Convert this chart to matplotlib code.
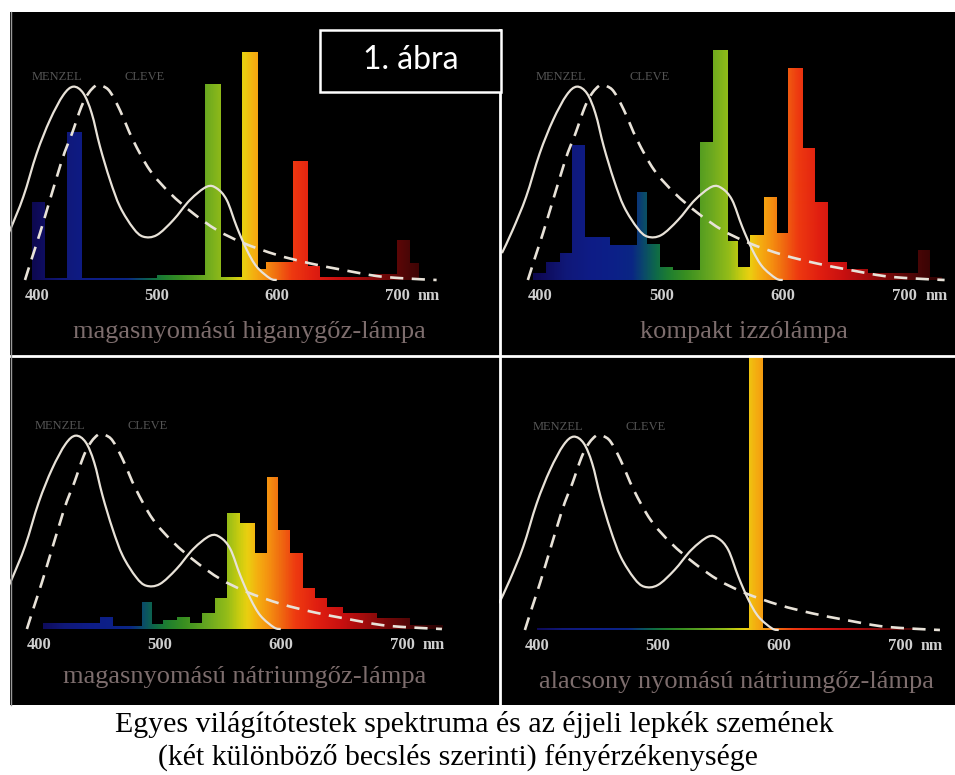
import numpy as np
import matplotlib
matplotlib.use('Agg')
import matplotlib.pyplot as plt
from matplotlib.colors import LinearSegmentedColormap
from matplotlib.path import Path
from matplotlib.patches import Rectangle, PathPatch
from matplotlib.lines import Line2D
from matplotlib import transforms

plt.rcParams['font.family'] = ['Liberation Serif', 'DejaVu Serif']

# éjjeli lepkék szemének érzékenysége (két becslés)
menzel_nm = [368.7, 377.5, 388.6, 399.8, 410.8, 421.9, 430.3, 438.6, 445.6, 452.5, 460.8,
             469.2, 480.3, 488.6, 499.8, 513.6, 527.5, 541.4, 549.8, 558.1, 566.4,
             574.8, 583.1, 594.2, 599.8]
menzel_val = [11.8, 21.9, 36.5, 55.6, 70.2, 81.1, 84.8, 81.9, 73.1, 58.5, 43.9,
              32.1, 22.7, 19.0, 19.7, 26.3, 35.1, 40.9, 40.2, 35.1, 23.4,
              13.2, 5.8, 0.7, 0.0]
cleve_nm = [390, 396, 402.5, 409, 416.4, 423, 429, 437, 443, 449.7, 455, 460.8, 469,
            480, 494, 511, 530, 550, 572, 600, 627.5, 655, 683, 705, 733]
cleve_val = [0, 10, 20.6, 32, 45, 56, 64, 76, 82, 85.5, 85, 82.6, 74.6,
             61.4, 48.2, 38, 29.3, 21.9, 16.2, 11, 7.3, 4.4, 1.75, 0.75, 0]

tick_nm = [400, 500, 600, 700]
tick_labels = ['400', '500', '600', '700']

# lámpák spektruma: sávhatárok (nm) és magasságok
hg_edges = [395.6, 406.7, 424.75, 437.25, 500, 540, 553, 571, 584.4, 591, 613,
            625.6, 636, 680, 699.75, 710.8, 718]
hg_heights = [34, 1, 65, 1, 2, 86, 1.5, 100, 5, 8, 52, 6, 1.5, 2.5, 17.5, 7.5]

cfl_edges = [394, 405, 416.5, 426, 437, 457.6, 479.6, 487.8, 498.8, 509.6, 531.7,
             542.7, 554.5, 563.3, 573, 584, 595, 604.4, 616.8, 626.3, 637.3, 652.4,
             670, 690.8, 711, 720.6, 731]
cfl_heights = [3, 8, 12, 59, 19, 15.4, 38.7, 16, 5.8, 4.4, 60.7, 100.9, 17, 5.8,
               19.7, 36.5, 20.5, 92.8, 57.8, 34.4, 8, 5, 3, 3, 13, 1.5]

hps_edges = [403.6, 450.4, 461.4, 484.9, 493.1, 502.7, 513.8, 524.8, 534.5, 545.5,
             555.1, 566.1, 578.5, 588.2, 597.8, 607.4, 618.4, 628.1, 637.8, 651.5,
             679, 706.6, 734]
hps_heights = [2.6, 5.4, 1.5, 12, 2, 3.9, 5.4, 2.5, 6.9, 13.5, 50.7, 46.3, 33.2,
               66.8, 43.4, 33.2, 17.8, 13.5, 9.8, 6.9, 4.7, 1.8]

lps_edges = [400, 575.2, 587, 720]
lps_heights = [0.8, 200, 0.8]

lamp_names = ['magasnyomású higanygőz-lámpa', 'kompakt izzólámpa',
              'magasnyomású nátriumgőz-lámpa', 'alacsony nyomású nátriumgőz-lámpa']

caption_lines = ['Egyes világítótestek spektruma és az éjjeli lepkék szemének',
                 '(két különböző becslés szerinti) fényérzékenysége']

# hullámhossz -> szín
spec_nm = [370, 400, 420, 440, 460, 475, 485, 495, 505, 520, 540, 555, 565, 572,
           580, 590, 600, 612, 630, 650, 670, 690, 710, 740]
spec_col = ['#080420', '#0e0a58', '#101878', '#0e1c86', '#0c2088', '#0a2684',
            '#0a4a6a', '#0e6a48', '#1e7e30', '#3a9020', '#6aa820', '#94bc18',
            '#c8cc10', '#ead010', '#f4b010', '#f59010', '#f06a10', '#ee3a10',
            '#e01e10', '#c81010', '#a00c0c', '#700808', '#4a0606', '#200000']
pos = [(v - spec_nm[0]) / (spec_nm[-1] - spec_nm[0]) for v in spec_nm]
spec_cmap = LinearSegmentedColormap.from_list('spec', list(zip(pos, spec_col)))

W, H = 955, 775
PX_PER_UNIT = 2.28
fig = plt.figure(figsize=(W / 100, H / 100), dpi=100)
fig.patch.set_facecolor('white')


def smooth_path(xs, ys):
    # sima görbe a leolvasott pontokon át (Catmull-Rom -> Bézier)
    p = np.column_stack([xs, ys])
    verts = [p[0]]
    codes = [Path.MOVETO]
    for i in range(len(p) - 1):
        p0 = p[max(i - 1, 0)]
        p1, p2 = p[i], p[i + 1]
        p3 = p[min(i + 2, len(p) - 1)]
        verts += [p1 + (p2 - p0) / 6, p2 - (p3 - p1) / 6, p2]
        codes += [Path.CURVE4] * 3
    return Path(verts, codes)


def panel(box, x400, ppn, base, edges, heights, name, name_xy):
    left, top, right, bottom = box
    ax = fig.add_axes([left / W, 1 - bottom / H, (right - left) / W, (bottom - top) / H])
    ax.set_facecolor('black')

    # spektrum: színátmenet a sávokra vágva
    bars = ax.bar(edges[:-1], heights, width=np.diff(edges), align='edge',
                  color='none', linewidth=0)
    clip = Path.make_compound_path(*[b.get_path().transformed(b.get_patch_transform())
                                     for b in bars])
    xs = np.linspace(spec_nm[0], spec_nm[-1], 900)
    rgb = spec_cmap((xs - spec_nm[0]) / (spec_nm[-1] - spec_nm[0]))[:, :3]
    im = ax.imshow(rgb[np.newaxis], extent=[spec_nm[0], spec_nm[-1], 0, 300],
                   aspect='auto', origin='lower', interpolation='bilinear', zorder=1)
    im.set_clip_path(clip, ax.transData)

    ax.add_patch(PathPatch(smooth_path(menzel_nm, menzel_val), fill=False,
                           edgecolor='#e8e2d8', lw=1.6, zorder=3))
    ax.add_patch(PathPatch(smooth_path(cleve_nm, cleve_val), fill=False,
                           edgecolor='#e8e2d8', lw=1.9, ls=(0, (5.0, 3.2)), zorder=3))
    ax.text(417, 89, 'MENZEL', fontsize=9, color='#555555', ha='center', va='center')
    ax.text(490, 89, 'CLEVE', fontsize=9, color='#555555', ha='center', va='center')

    ax.set_xlim(400 + (left - x400) / ppn, 400 + (right - x400) / ppn)
    ax.set_ylim((base - bottom) / PX_PER_UNIT, (base - top) / PX_PER_UNIT)

    for s in ['left', 'right', 'top']:
        ax.spines[s].set_visible(False)
    ax.spines['bottom'].set_position(('data', 0))
    ax.spines['bottom'].set_visible(False)
    ax.set_yticks([])
    ax.set_xticks(tick_nm, tick_labels, fontweight='bold')
    ax.tick_params(axis='x', length=0, pad=6, labelsize=12, labelcolor='#cfcfcf')
    off = transforms.offset_copy(ax.transData, fig=fig, x=15, y=-6, units='points')
    ax.text(700, 0, 'nm', transform=off, fontsize=11.5, fontweight='bold',
            color='#cfcfcf', ha='left', va='top')

    ax.text(name_xy[0], name_xy[1], name, fontsize=19, color='#7d6d6d',
            ha='center', va='center')
    return ax


panel((10, 12, 499, 355), 37, 1.2, 280, hg_edges, hg_heights, lamp_names[0], (577, -23))
panel((499, 12, 955, 355), 540, 1.215, 280, cfl_edges, cfl_heights, lamp_names[1], (568, -23))
panel((10, 355, 499, 705), 39, 1.21, 629, hps_edges, hps_heights, lamp_names[2], (570, -21))
panel((499, 355, 955, 705), 537, 1.21, 630, lps_edges, lps_heights, lamp_names[3], (565, -23))

# elválasztó vonalak és keret
fig.add_artist(Line2D([10 / W, 955 / W], [1 - 356 / H] * 2, color='white', lw=2, zorder=5))
fig.add_artist(Line2D([500 / W] * 2, [1 - 30 / H, 1 - 705 / H], color='white', lw=2, zorder=5))
fig.add_artist(Line2D([10.5 / W] * 2, [1 - 12 / H, 1 - 705 / H], color='#9a9a9a', lw=1, zorder=5))
fig.add_artist(Rectangle((320 / W, 1 - 92 / H), 181 / W, 62 / H, transform=fig.transFigure,
                         facecolor='black', edgecolor='white', lw=1.8, zorder=6))
fig.text(411 / W, 1 - 60 / H, '1. ábra', fontsize=23, color='white', family='Lato',
         ha='center', va='center', zorder=7)

fig.text(474 / W, 1 - 725 / H, caption_lines[0], fontsize=21.5, color='black',
         ha='center', va='center')
fig.text(458 / W, 1 - 757 / H, caption_lines[1], fontsize=21.5, color='black',
         ha='center', va='center')

fig.savefig('out.png', dpi=100)
